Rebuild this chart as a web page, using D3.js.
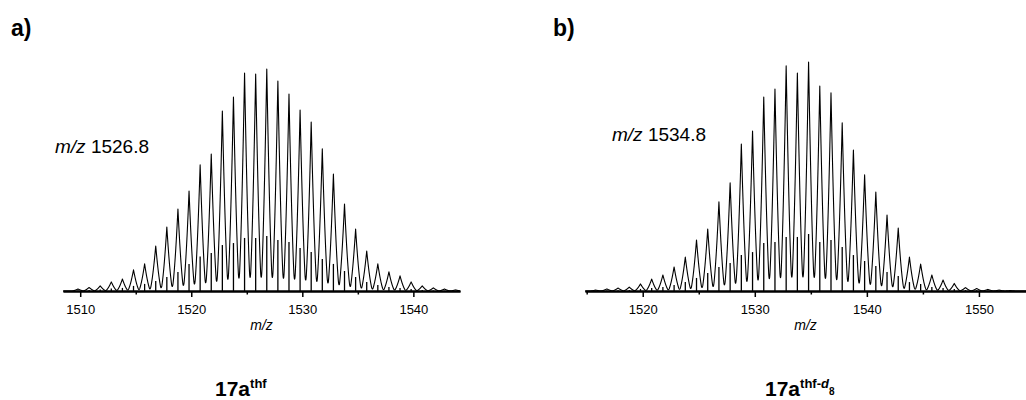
<!DOCTYPE html>
<html>
<head>
<meta charset="utf-8">
<script src="https://cdn.jsdelivr.net/npm/d3@7"></script>
<style>
  body { margin: 0; background: #fff; }
  svg { display: block; font-family: Arial, "Liberation Sans", sans-serif; }
</style>
</head>
<body>
<div id="chart"></div>
<script>
// ---- data (intensity in % of base peak) ----

// a) 17a-thf
const mzA = [1509.8, 1510.8, 1511.8, 1512.8, 1513.8, 1514.8, 1515.8, 1516.8, 1517.8, 1518.8,
             1519.8, 1520.8, 1521.8, 1522.8, 1523.8, 1524.8, 1525.8, 1526.8, 1527.8, 1528.8,
             1529.8, 1530.8, 1531.8, 1532.8, 1533.8, 1534.8, 1535.8, 1536.8, 1537.8, 1538.8,
             1539.8, 1540.8, 1541.8, 1542.8, 1543.8];
const profileA = [0.9, 1.6, 2.3, 4.1, 5.4, 9.5, 12.2, 20.3, 28.8, 36.9,
                  45, 56.8, 61.7, 81.1, 87.4, 98.2, 97.7, 100, 94.6, 88.7,
                  81.5, 76.1, 64, 52.7, 39.2, 27.9, 18, 12.2, 8.6, 6.8,
                  4.1, 2.3, 1.4, 0.9, 0.5];
const stickA = [0.2, 0.5, 0.7, 1.1, 1.4, 2.3, 3.2, 4.5, 6.3, 8.6,
                12.2, 15.5, 17.1, 20.7, 21.6, 23.9, 23.9, 24.8, 23, 22.1,
                19.4, 17.6, 14.4, 12.2, 9, 6.3, 4.1, 2.7, 1.8, 1.4,
                0.9, 0.5, 0.2, 0.1, 0.1];
const ticksA = [1510, 1520, 1530, 1540];
const minorA = [1515, 1525, 1535];

// b) 17a-thf-d8
const mzB = [1515.8, 1516.8, 1517.8, 1518.8, 1519.8, 1520.8, 1521.8, 1522.8, 1523.8, 1524.8,
             1525.8, 1526.8, 1527.8, 1528.8, 1529.8, 1530.8, 1531.8, 1532.8, 1533.8, 1534.8,
             1535.8, 1536.8, 1537.8, 1538.8, 1539.8, 1540.8, 1541.8, 1542.8, 1543.8, 1544.8,
             1545.8, 1546.8, 1547.8, 1548.8, 1549.8, 1550.8, 1551.8, 1552.8];
const profileB = [0.4, 0.9, 1.3, 1.7, 3.1, 5.2, 7, 10.5, 14.8, 22.3,
                  27.1, 38.9, 47.2, 64.2, 69.9, 84.7, 88.2, 98.3, 95.2, 100,
                  89.5, 86.5, 73.4, 61.6, 50.7, 43.2, 33.2, 27.5, 14.8, 11.8,
                  7, 4.8, 3.3, 1.5, 1.1, 0.7, 0.4, 0.2];
const stickB = [0.1, 0.2, 0.3, 0.4, 0.9, 1.3, 1.7, 2.6, 3.9, 5.7,
                7.9, 10.5, 12.2, 15.7, 17, 21, 21.4, 23.6, 23.6, 24.9,
                21.4, 22.3, 19.2, 15.7, 13.1, 10.9, 8.3, 6.6, 3.9, 3.1,
                1.7, 1.3, 0.9, 0.4, 0.3, 0.2, 0.1, 0.05];
const ticksB = [1520, 1530, 1540, 1550];
const minorB = [1515, 1525, 1535, 1545];

const W = 1026, H = 400;

const svg = d3.select("#chart").append("svg")
  .attr("width", W)
  .attr("height", H);

// peak shape: sharp top, skirt reaching ~0.56 m/z to each side
function peakShape(d) {
  const t = 1 - Math.abs(d) / 0.56;
  return t > 0 ? Math.pow(t, 1.55) : 0;
}

function drawSpectrum(cfg) {
  const x = d3.scaleLinear().domain(cfg.domain).range(cfg.xRange);
  const y = d3.scaleLinear().domain([0, 100]).range([cfg.baseY, cfg.topY]);
  const g = svg.append("g");

  const peaks = cfg.mz.map((m, i) => ({ mz: m, h: cfg.profile[i], s: cfg.stick[i] }));

  // profile trace, sampled finely across the axis
  const pts = [];
  const step = 0.01;
  for (let v = cfg.domain[0]; v <= cfg.domain[1]; v += step) {
    let s = 0;
    peaks.forEach(p => { s += p.h * peakShape(v - p.mz); });
    pts.push([v, s]);
  }
  // make sure every apex is sampled exactly
  peaks.forEach(p => pts.push([p.mz, p.h]));
  pts.sort((a, b) => a[0] - b[0]);

  const line = d3.line().x(d => x(d[0])).y(d => y(d[1]));

  g.append("path")
    .datum(pts)
    .attr("fill", "none")
    .attr("stroke", "#000")
    .attr("stroke-width", 1.1)
    .attr("stroke-linejoin", "round")
    .attr("d", line);

  // stick spectrum
  g.selectAll("line.stick")
    .data(peaks)
    .join("line")
      .attr("class", "stick")
      .attr("x1", d => x(d.mz))
      .attr("x2", d => x(d.mz))
      .attr("y1", y(0))
      .attr("y2", d => y(d.s))
      .attr("stroke", "#000")
      .attr("stroke-width", 1.3);

  // axis (minor ticks first, then the labelled one)
  const minorAxis = d3.axisBottom(x).tickValues(cfg.minor).tickSize(3.5).tickSizeOuter(0).tickFormat("");
  const majorAxis = d3.axisBottom(x).tickValues(cfg.ticks).tickSize(6).tickSizeOuter(0)
    .tickPadding(8).tickFormat(d3.format("d"));

  const ga = g.append("g").attr("transform", `translate(0,${cfg.baseY})`);
  ga.append("g").call(minorAxis);
  ga.append("g").call(majorAxis);
  ga.selectAll(".domain").attr("stroke", "#000").attr("stroke-width", 2);
  ga.selectAll(".tick line").attr("stroke", "#000").attr("stroke-width", 1.5);
  ga.selectAll(".tick text")
    .attr("fill", "#000")
    .style("font-size", "13px")
    .style("font-family", "Arial, 'Liberation Sans', sans-serif");

  // axis title
  g.append("text")
    .attr("x", (x.range()[0] + x.range()[1]) / 2)
    .attr("y", cfg.baseY + 39)
    .attr("text-anchor", "middle")
    .style("font-size", "14px")
    .style("font-style", "italic")
    .text("m/z");

  // peak annotation
  const ann = g.append("text")
    .attr("x", cfg.annX)
    .attr("y", cfg.annY)
    .style("font-size", "19px");
  ann.append("tspan").style("font-style", "italic").text("m/z");
  ann.append("tspan").text(" " + cfg.annValue);

  // panel letter
  g.append("text")
    .attr("x", cfg.letterX)
    .attr("y", 36)
    .style("font-size", "23px")
    .style("font-weight", "bold")
    .text(cfg.letter);
}

drawSpectrum({
  mz: mzA, profile: profileA, stick: stickA,
  ticks: ticksA, minor: minorA,
  domain: [1508.45, 1544.2], xRange: [63, 460],
  baseY: 291, topY: 69,
  annX: 55, annY: 153, annValue: "1526.8",
  letter: "a)", letterX: 11
});

drawSpectrum({
  mz: mzB, profile: profileB, stick: stickB,
  ticks: ticksB, minor: minorB,
  domain: [1514.85, 1554.2], xRange: [585, 1026],
  baseY: 291, topY: 62,
  annX: 612, annY: 141, annValue: "1534.8",
  letter: "b)", letterX: 553
});

// compound labels under the panels
const labA = svg.append("text")
  .attr("x", 215).attr("y", 396)
  .style("font-weight", "bold")
  .style("font-size", "21px");
labA.append("tspan").text("17a");
labA.append("tspan").attr("dy", -8).style("font-size", "13px").text("thf");

const labB = svg.append("text")
  .attr("x", 765).attr("y", 396)
  .style("font-weight", "bold")
  .style("font-size", "21px");
labB.append("tspan").text("17a");
labB.append("tspan").attr("dy", -8).style("font-size", "13px").text("thf-");
labB.append("tspan").style("font-size", "13px").style("font-style", "italic").text("d");
labB.append("tspan").attr("dy", 7).style("font-size", "10px").text("8");
</script>
</body>
</html>
